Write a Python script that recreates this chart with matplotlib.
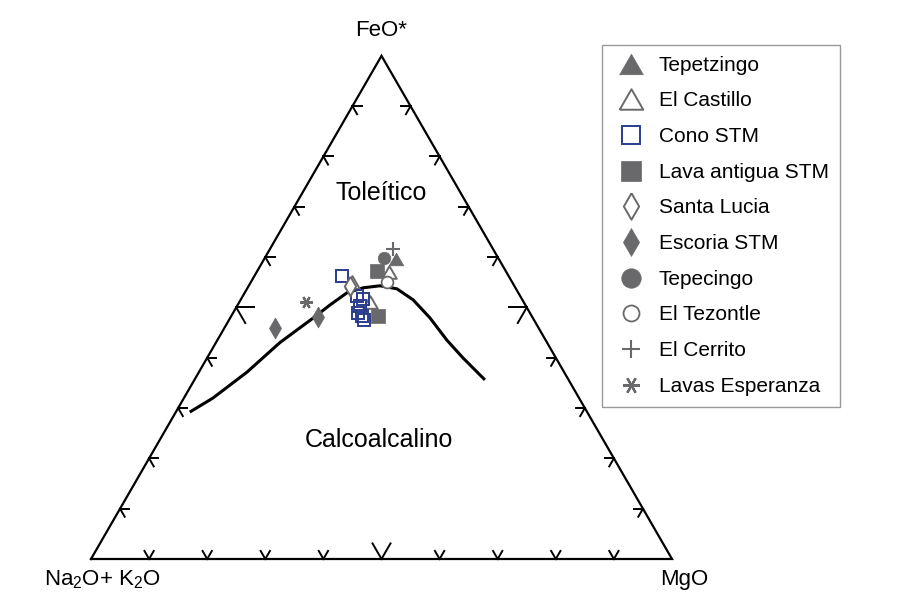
import numpy as np
import matplotlib
matplotlib.use('Agg')
import matplotlib.pyplot as plt
from matplotlib.lines import Line2D

plt.rcParams['font.family'] = ['Liberation Sans', 'DejaVu Sans']
plt.rcParams['mathtext.fontset'] = 'custom'
plt.rcParams['mathtext.rm'] = 'Liberation Sans'
plt.rcParams['mathtext.it'] = 'Liberation Sans:italic'

GREY = '#69696c'
BLUE = '#2b3d8c'

# Samples as (Na2O+K2O, FeO*, MgO), wt% normalised to 100
tepetzingo = [(17.7, 59.7, 22.6)]
el_castillo = [(20.2, 57.1, 22.7), (27.5, 55.1, 17.4), (26.4, 51.1, 22.5)]
cono_stm = [(28.6, 56.3, 15.1), (28.1, 52.3, 19.6), (27.3, 51.7, 21.0),
            (28.6, 50.3, 21.1), (29.6, 48.9, 21.5), (29.2, 48.3, 22.5),
            (29.3, 47.5, 23.2)]
lava_antigua = [(22.1, 57.3, 20.6), (26.5, 48.3, 25.2)]
santa_lucia = [(28.2, 54.3, 17.5)]
escoria_stm = [(45.4, 45.9, 8.7), (36.9, 48.1, 15.0)]
tepecingo = [(19.6, 59.9, 20.5)]
el_tezontle = [(21.5, 55.1, 23.4)]
el_cerrito = [(17.2, 61.6, 21.2)]
lavas_esperanza = [(38.3, 52.1, 11.7)]

# Tholeiitic / calc-alkaline dividing line
boundary = [(68.4, 29.2, 2.4), (63.0, 32.0, 5.0), (54.6, 37.2, 8.3),
            (46.0, 43.0, 11.0), (37.8, 47.9, 14.3), (33.6, 50.5, 15.9),
            (29.5, 52.9, 17.6), (26.2, 53.9, 19.9), (23.1, 54.3, 22.6),
            (20.5, 53.7, 25.8), (18.8, 51.5, 29.7), (17.7, 47.9, 34.4),
            (17.0, 43.5, 39.5), (16.0, 40.0, 44.0), (14.4, 35.6, 50.0)]

labels = ['Tepetzingo', 'El Castillo', 'Cono STM', 'Lava antigua STM',
          'Santa Lucia', 'Escoria STM', 'Tepecingo', 'El Tezontle',
          'El Cerrito', 'Lavas Esperanza']

H = np.sqrt(3) / 2
TRI = [(-0.5, -0.433), (0.5, -0.433), (0, 0.433), (-0.5, -0.433)]
DIAMOND = [(0, 1), (0.58, 0), (0, -1), (-0.58, 0), (0, 1)]
ASTER = (6, 2, 90)


def project(points):
    """Ternary (alk, feo, mgo) -> cartesian, Na2O+K2O at the origin."""
    pts = np.array(points, dtype=float)
    pts = pts / pts.sum(axis=1, keepdims=True)
    f, m = pts[:, 1], pts[:, 2]
    return m + f / 2, f * H


def draw_frame(ax):
    ax.plot([0, 1, 0.5, 0], [0, 0, H, 0], color='black', lw=1.6,
            solid_joinstyle='miter', zorder=2)
    # little chevrons every 10 %, bigger one at 50 %
    edges = {
        'bottom': (lambda t: (t, 0.0), [(-0.5, H), (0.5, H)]),
        'left': (lambda t: (t / 2, t * H), [(1, 0), (0.5, -H)]),
        'right': (lambda t: (1 - t / 2, t * H), [(-1, 0), (-0.5, -H)]),
    }
    for name, (pos, dirs) in edges.items():
        for k in range(1, 10):
            x0, y0 = pos(k / 10)
            size = 0.031 if k == 5 else 0.016
            for dx, dy in dirs:
                ax.plot([x0, x0 + dx * size], [y0, y0 + dy * size],
                        color='black', lw=1.4, zorder=2)


# marker styles: (style, plot size, legend size)
STYLES = {
    'Tepetzingo': (dict(marker=TRI, mfc=GREY, mec=GREY, mew=0.5), 10.5, 17),
    'El Castillo': (dict(marker=TRI, mfc='white', mec=GREY, mew=1.4), 10.5, 17),
    'Cono STM': (dict(marker='s', mfc='none', mec=BLUE, mew=1.4), 8.5, 13.5),
    'Lava antigua STM': (dict(marker='s', mfc=GREY, mec=GREY, mew=0.5), 10, 14),
    'Santa Lucia': (dict(marker=DIAMOND, mfc='white', mec=GREY, mew=1.4), 14, 19),
    'Escoria STM': (dict(marker=DIAMOND, mfc=GREY, mec=GREY, mew=0.5), 15, 20),
    'Tepecingo': (dict(marker='o', mfc=GREY, mec=GREY, mew=0.5), 9, 14),
    'El Tezontle': (dict(marker='o', mfc='white', mec=GREY, mew=1.3), 8.5, 11.5),
    'El Cerrito': (dict(marker='+', mec=GREY, mew=1.5), 10, 13),
    'Lavas Esperanza': (dict(marker=ASTER, mec=GREY, mew=1.6), 9, 12),
}


fig = plt.figure(figsize=(8.99, 6.03), dpi=100)
ax = fig.add_axes([0, 0, 1, 1])
ax.set_xlim(-91 / 581, 808 / 581)
ax.set_ylim(-44 / 581, 559 / 581)
ax.axis('off')

draw_frame(ax)

bx, by = project(boundary)
ax.plot(bx, by, color='black', lw=2.2, solid_capstyle='butt',
        solid_joinstyle='round', zorder=3)

groups = [tepetzingo, el_castillo, cono_stm, lava_antigua, santa_lucia,
          escoria_stm, tepecingo, el_tezontle, el_cerrito, lavas_esperanza]
for name, pts in zip(labels, groups):
    st, ms, _ = STYLES[name]
    x, y = project(pts)
    ax.plot(x, y, linestyle='none', ms=ms, zorder=4, **st)

# axis / field labels
ax.text(0.5, 0.910, 'FeO*', ha='center', va='center', fontsize=16)
ax.text(-0.081, -0.036, 'Na$_2$O+ K$_2$O', ha='left', va='center', fontsize=16)
ax.text(1.0215, -0.036, 'MgO', ha='center', va='center', fontsize=16)
ax.text(0.5, 0.630, 'Toleítico', ha='center', va='center', fontsize=18)
ax.text(0.496, 0.205, 'Calcoalcalino', ha='center', va='center', fontsize=18)

handles = [Line2D([], [], linestyle='none', ms=STYLES[n][2], **STYLES[n][0])
           for n in labels]
leg = ax.legend(handles, labels, loc='upper left',
                bbox_to_anchor=(602 / 899, 1 - 45 / 603),
                bbox_transform=fig.transFigure, borderaxespad=0,
                fontsize=15, frameon=True, fancybox=False,
                borderpad=0.52, labelspacing=0.8, handlelength=1.75,
                handletextpad=0.45)
leg.get_frame().set_edgecolor('#808080')
leg.get_frame().set_linewidth(1.0)

fig.savefig('out.png', dpi=100)
